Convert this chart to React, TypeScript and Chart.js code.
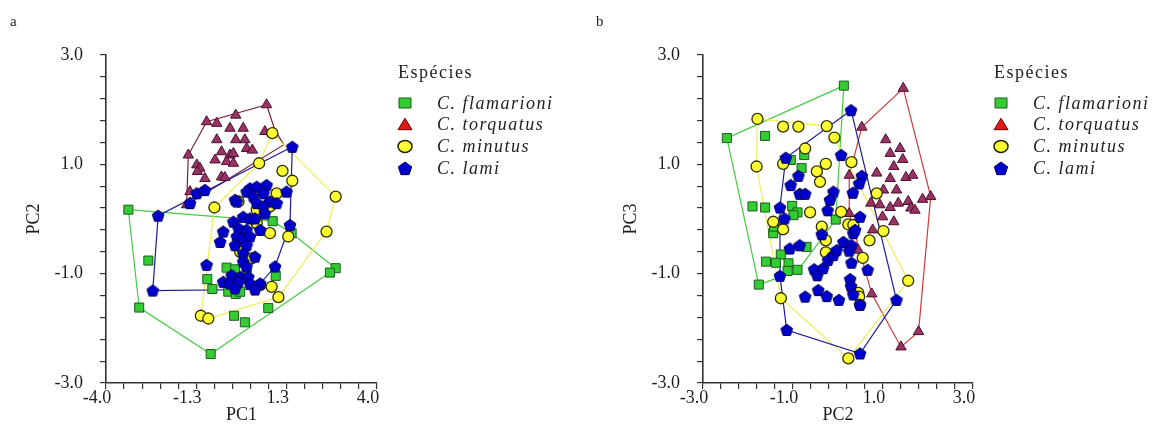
import React, { useEffect, useRef } from 'react';
import { Chart, registerables } from 'chart.js';

Chart.register(...registerables);

type P = [number, number];

// ---------- text ----------
const SPECIES = ['C. flamarioni', 'C. torquatus', 'C. minutus', 'C. lami'];
const LEGEND_TITLE = 'Espécies';
const PANEL_LABELS = ['a', 'b'];
const AXIS_TITLES_A = ['PC1', 'PC2'];
const AXIS_TITLES_B = ['PC2', 'PC3'];

// ---------- axes ----------
const A_X_RANGE = [-4, 4];
const B_X_RANGE = [-3, 3];
const Y_RANGE = [-3, 3];
const A_X_TICK_LABELS = ['-4.0', '-1.3', '1.3', '4.0'];
const B_X_TICK_LABELS = ['-3.0', '-1.0', '1.0', '3.0'];
const Y_TICK_LABELS = ['-3.0', '-1.0', '1.0', '3.0'];

// ---------- panel a (PC1 x PC2) ----------
const A_FLAM: P[] = [[-3.34,0.17],[-2.75,-0.76],[-3.02,-1.62],[-0.91,-2.47],[0.92,-0.04],[1.48,-0.26],[2.78,-0.90],[2.61,-0.98],[-0.44,-0.89],[-0.19,-0.92],[1.01,-1.04],[-1.01,-1.10],[-0.86,-1.28],[-0.39,-1.33],[-0.17,-1.37],[-0.04,-1.33],[0.79,-1.63],[-0.22,-1.77],[0.10,-1.89],[0.15,-0.99]];
const A_FLAM_HULL: P[] = [[-3.34,0.17],[0.92,-0.04],[1.48,-0.26],[2.78,-0.90],[2.61,-0.98],[-0.91,-2.47],[-3.02,-1.62],[-3.34,0.17]];

const A_TORQ: P[] = [[0.74,2.09],[-0.17,1.90],[-1.03,1.78],[-0.73,1.75],[-0.34,1.66],[0.05,1.66],[0.69,1.60],[-0.73,1.45],[-0.17,1.45],[0.10,1.45],[0.15,1.29],[0.32,1.26],[-1.57,1.17],[-0.59,1.23],[-0.34,1.17],[-0.24,1.20],[-0.78,1.08],[-0.44,1.05],[-0.24,1.02],[-1.32,0.99],[-1.23,0.93],[-1.30,0.87],[-1.08,0.74],[-0.59,0.77],[-0.49,0.76],[-1.52,0.50],[-1.62,0.26],[-1.52,0.29]];
const A_TORQ_HULL: P[] = [[0.74,2.09],[-1.03,1.78],[-1.57,1.17],[-1.62,0.26],[1.25,1.36],[0.99,1.62],[0.74,2.09]];

const A_MIN: P[] = [[0.91,1.57],[0.52,1.02],[1.21,0.88],[1.50,0.70],[2.78,0.41],[-0.80,0.21],[1.04,0.47],[0.84,0.23],[-0.09,0.32],[0.45,-0.08],[0.84,-0.26],[1.38,-0.32],[2.51,-0.23],[-0.04,-0.60],[0.30,-0.72],[0.55,-1.21],[0.89,-1.24],[1.09,-1.43],[-1.20,-1.77],[-0.98,-1.82],[0.45,0.17]];
const A_MIN_HULL: P[] = [[0.91,1.57],[2.78,0.41],[2.51,-0.23],[1.09,-1.43],[-0.98,-1.82],[-1.20,-1.77],[-0.80,0.21],[0.52,1.02],[0.91,1.57]];

const A_LAMI: P[] = [[1.50,1.32],[-1.52,0.29],[-1.32,0.47],[-1.08,0.53],[-2.46,0.06],[-2.62,-1.31],[0.25,0.56],[0.15,0.50],[0.45,0.59],[0.74,0.62],[1.33,0.50],[0.65,0.47],[0.35,0.41],[0.45,0.29],[0.84,0.32],[1.04,0.29],[-0.19,0.35],[-0.14,0.32],[0.65,0.23],[0.69,0.10],[0.05,0.04],[0.25,0.01],[0.40,0.01],[-0.24,-0.05],[1.43,-0.11],[-0.54,-0.23],[-0.09,-0.17],[0.15,-0.20],[0.55,-0.20],[-0.63,-0.42],[-0.14,-0.32],[0.05,-0.35],[0.25,-0.32],[-0.19,-0.48],[0.15,-0.48],[0.05,-0.63],[0.40,-0.69],[0.05,-0.78],[0.15,-0.87],[-1.03,-0.84],[0.99,-0.87],[-0.29,-1.03],[-0.04,-1.06],[0.20,-1.06],[-0.54,-1.15],[-0.34,-1.18],[-0.09,-1.15],[0.25,-1.18],[0.55,-1.18],[-0.19,-1.27],[0.40,-1.29]];
const A_LAMI_HULL: P[] = [[1.50,1.32],[1.43,-0.11],[0.99,-0.87],[0.40,-1.29],[-2.62,-1.31],[-2.46,0.06],[1.50,1.32]];

// ---------- panel b (PC2 x PC3) ----------
const B_FLAM: P[] = [[0.13,2.44],[-2.47,1.48],[-1.62,1.52],[-0.75,1.17],[-0.81,0.93],[-1.05,1.08],[-1.90,0.23],[-1.62,0.21],[-1.02,0.24],[-0.90,0.12],[-0.99,0.07],[-0.05,-0.01],[-1.44,-0.26],[-1.42,-0.14],[-1.27,-0.65],[-1.60,-0.78],[-1.38,-0.80],[-1.10,-0.81],[-1.12,-0.95],[-0.90,-0.93],[-0.70,-0.51],[-1.76,-1.20]];
const B_FLAM_HULL: P[] = [[0.13,2.44],[-2.47,1.48],[-1.76,-1.20],[-0.90,-0.95],[-0.05,-0.01],[0.13,2.44]];

const B_TORQ: P[] = [[1.45,2.39],[0.53,1.68],[1.06,1.45],[1.38,1.29],[1.16,1.20],[1.44,1.09],[1.24,0.96],[0.86,0.84],[1.16,0.74],[1.51,0.76],[1.66,0.80],[1.01,0.53],[1.30,0.53],[2.06,0.41],[1.88,0.36],[0.73,0.29],[0.93,0.26],[1.16,0.21],[1.34,0.29],[1.56,0.32],[1.62,0.20],[1.71,0.16],[0.25,0.10],[0.99,0.04],[1.24,-0.05],[0.77,-0.20],[0.45,-0.57],[0.75,-1.37],[1.79,-2.06],[1.40,-2.34],[0.25,0.80]];
const B_TORQ_HULL: P[] = [[1.45,2.39],[2.06,0.41],[1.79,-2.06],[1.40,-2.34],[0.75,-1.37],[0.25,0.10],[0.25,0.80],[0.53,1.68],[1.45,2.39]];

const B_MIN: P[] = [[-1.79,1.83],[-1.22,1.69],[-0.88,1.69],[-0.25,1.70],[-0.08,1.49],[-0.73,1.29],[-1.81,0.96],[-1.22,1.01],[-0.27,1.01],[0.30,1.04],[-0.47,0.87],[-0.40,0.68],[0.86,0.47],[-0.62,0.12],[0.07,0.13],[-1.44,-0.05],[-1.22,-0.19],[-0.36,-0.14],[-0.27,-0.39],[0.23,-0.10],[0.34,-0.11],[0.70,-0.39],[1.01,-0.22],[-0.27,-0.61],[0.55,-0.71],[1.56,-1.13],[0.45,-1.35],[0.47,-1.42],[0.49,-1.57],[-1.27,-1.45],[0.23,-2.55]];
const B_MIN_HULL: P[] = [[-1.79,1.83],[-0.25,1.70],[-0.08,1.49],[1.56,-1.13],[0.23,-2.55],[-1.27,-1.45],[-1.81,0.96],[-1.79,1.83]];

const B_LAMI: P[] = [[0.29,1.99],[-1.16,1.12],[0.07,1.17],[-0.88,0.79],[-1.05,0.62],[-0.85,0.46],[-0.73,0.46],[-0.10,0.50],[-0.18,0.35],[0.53,0.79],[0.47,0.65],[0.33,0.48],[-1.29,0.21],[-1.19,0.01],[-0.23,0.16],[0.49,0.04],[0.34,-0.26],[-0.36,-0.28],[0.12,-0.42],[-1.07,-0.54],[-0.85,-0.48],[0.30,-0.48],[0.38,-0.20],[-0.53,-0.92],[-0.46,-1.03],[-0.33,-0.90],[-0.22,-0.75],[-0.10,-0.66],[-0.03,-0.57],[0.25,-0.58],[0.30,-0.80],[0.66,-0.93],[0.27,-1.10],[0.29,-1.23],[-0.44,-1.30],[-0.73,-1.42],[-0.25,-1.41],[0.02,-1.48],[0.34,-1.38],[0.49,-1.57],[-1.29,-1.04],[-1.14,-2.03],[1.30,-1.48],[0.49,-2.46]];
const B_LAMI_HULL: P[] = [[0.29,1.99],[1.30,-1.48],[0.49,-2.46],[-1.14,-2.03],[-1.29,-1.04],[-1.29,0.21],[-1.16,1.12],[0.29,1.99]];

// ---------- styles ----------
const FONT = '"Liberation Serif", "Times New Roman", serif';
const INK = '#1e1e1e';
const FLAM_FILL = '#33cc33', FLAM_EDGE = '#1d5a1d', FLAM_HULL = '#44cc44';
const TORQ_FILL = '#993366', TORQ_EDGE = '#4a0f2a';
const TORQ_HULL_A = '#74203c', TORQ_HULL_B = '#d03a3a';
const TORQ_LEGEND_FILL = '#dd1a1a', TORQ_LEGEND_EDGE = '#6a0000';
const MIN_FILL = '#ffff33', MIN_EDGE = '#2e2e00', MIN_HULL = '#eeee55';
const LAMI_FILL = '#0000cc', LAMI_EDGE = '#000055', LAMI_HULL = '#1c1c99';

const N_INTERVALS = 15;
const MINOR_PER_LABEL = 5;

function makePentagon(r: number, fill: string, edge: string) {
  const size = Math.ceil(r * 2 + 3);
  const c = document.createElement('canvas');
  c.width = size;
  c.height = size;
  const g = c.getContext('2d')!;
  const cx = size / 2, cy = size / 2 + 0.5;
  g.beginPath();
  for (let i = 0; i < 5; i++) {
    const a = -Math.PI / 2 + (i * 2 * Math.PI) / 5;
    const px = cx + r * Math.cos(a), py = cy + r * Math.sin(a);
    if (i === 0) g.moveTo(px, py); else g.lineTo(px, py);
  }
  g.closePath();
  g.fillStyle = fill;
  g.fill();
  g.lineWidth = 1;
  g.strokeStyle = edge;
  g.stroke();
  return c;
}

function legendMarker(ctx: CanvasRenderingContext2D, kind: number, x: number, y: number) {
  ctx.save();
  ctx.lineWidth = 1;
  ctx.beginPath();
  if (kind === 0) {
    ctx.rect(x - 6, y - 5, 12, 10);
    ctx.fillStyle = FLAM_FILL; ctx.strokeStyle = FLAM_EDGE;
  } else if (kind === 1) {
    ctx.moveTo(x, y - 6.5); ctx.lineTo(x + 7, y + 5); ctx.lineTo(x - 7, y + 5); ctx.closePath();
    ctx.fillStyle = TORQ_LEGEND_FILL; ctx.strokeStyle = TORQ_LEGEND_EDGE;
  } else if (kind === 2) {
    ctx.ellipse(x, y, 7, 6, 0, 0, Math.PI * 2);
    ctx.fillStyle = MIN_FILL; ctx.strokeStyle = '#222200';
    ctx.lineWidth = 1.5;
  } else {
    for (let i = 0; i < 5; i++) {
      const a = -Math.PI / 2 + (i * 2 * Math.PI) / 5;
      const px = x + 7 * Math.cos(a), py = y + 1 + 7 * Math.sin(a);
      if (i === 0) ctx.moveTo(px, py); else ctx.lineTo(px, py);
    }
    ctx.closePath();
    ctx.fillStyle = LAMI_FILL; ctx.strokeStyle = LAMI_EDGE;
  }
  ctx.fill();
  ctx.stroke();
  ctx.restore();
}

const legendPlugin = {
  id: 'speciesLegend',
  afterDraw(chart: any, _args: any, opts: any) {
    const { ctx, chartArea } = chart;
    const x0 = chartArea.right;
    const y0 = chartArea.top;
    ctx.save();
    ctx.fillStyle = INK;
    ctx.textAlign = 'left';
    ctx.textBaseline = 'middle';
    // panel letter
    ctx.font = `15px ${FONT}`;
    ctx.fillText(opts.panel, opts.panelX, 22);
    (ctx as any).letterSpacing = '1.5px';
    ctx.font = `18px ${FONT}`;
    ctx.fillText(LEGEND_TITLE, x0 + 21, y0 + 18);
    ctx.font = `italic 18px ${FONT}`;
    const rows = [49, 70.7, 92.4, 114];
    SPECIES.forEach((name, i) => {
      legendMarker(ctx, i, x0 + 28, y0 + rows[i] - 1);
      ctx.fillStyle = INK;
      ctx.fillText(name, x0 + 60, y0 + rows[i]);
    });
    ctx.restore();
  },
};

function axis(range: number[], labels: string[], title: string, isX: boolean) {
  const [min, max] = range;
  return {
    type: 'linear',
    position: isX ? 'bottom' : 'left',
    min,
    max,
    afterBuildTicks: (scale: any) => {
      const t = [];
      for (let i = 0; i <= N_INTERVALS; i++) t.push({ value: min + ((max - min) * i) / N_INTERVALS });
      scale.ticks = t;
    },
    afterFit: (scale: any) => {
      if (isX) scale.height = 51; else scale.width = 106;
    },
    ticks: {
      autoSkip: false,
      maxRotation: 0,
      minRotation: 0,
      color: INK,
      font: { family: FONT, size: 18, lineHeight: 1 },
      padding: isX ? 0 : 17,
      labelOffset: isX ? -9 : 0,
      callback: (_v: any, i: number) => (i % MINOR_PER_LABEL === 0 ? labels[i / MINOR_PER_LABEL] : ''),
    },
    grid: {
      display: true,
      drawOnChartArea: false,
      drawTicks: true,
      tickLength: 6,
      color: '#333333',
      lineWidth: 1.2,
    },
    border: { display: true, color: '#333333', width: 1.6 },
    title: {
      display: true,
      text: title,
      color: INK,
      font: { family: FONT, size: 18, lineHeight: 1 },
      padding: isX ? { top: 0, bottom: 10 } : { top: 25, bottom: 0 },
    },
  };
}

const pts = (a: P[]) => a.map(([x, y]) => ({ x, y }));

function buildConfig(p: any, pent: HTMLCanvasElement) {
  const hull = (a: P[], color: string) => ({
    label: '',
    data: pts(a),
    showLine: true,
    fill: false,
    tension: 0,
    borderColor: color,
    borderWidth: 1.2,
    pointRadius: 0,
    pointHoverRadius: 0,
    pointHitRadius: 0,
  });
  return {
    type: 'scatter',
    data: {
      datasets: [
        { label: SPECIES[3], data: pts(p.lami), pointStyle: pent, pointRadius: 6, backgroundColor: LAMI_FILL, borderColor: LAMI_EDGE, showLine: false },
        { label: SPECIES[2], data: pts(p.min), pointStyle: 'circle', pointRadius: 5.5, backgroundColor: MIN_FILL, borderColor: MIN_EDGE, borderWidth: 1.3, showLine: false },
        { label: SPECIES[1], data: pts(p.torq), pointStyle: 'triangle', pointRadius: 6, backgroundColor: TORQ_FILL, borderColor: TORQ_EDGE, borderWidth: 1, showLine: false },
        { label: SPECIES[0], data: pts(p.flam), pointStyle: 'rect', pointRadius: 6.4, backgroundColor: FLAM_FILL, borderColor: FLAM_EDGE, borderWidth: 1, showLine: false },
        hull(p.lamiHull, LAMI_HULL),
        hull(p.minHull, MIN_HULL),
        hull(p.torqHull, p.torqHullColor),
        hull(p.flamHull, FLAM_HULL),
      ],
    },
    options: {
      animation: false,
      responsive: false,
      devicePixelRatio: 1,
      events: [],
      layout: { padding: { left: p.padL, right: p.padR, top: 55, bottom: 0 } },
      scales: {
        x: axis(p.xRange, p.xLabels, p.titles[0], true),
        y: axis(Y_RANGE, Y_TICK_LABELS, p.titles[1], false),
      },
      plugins: {
        legend: { display: false },
        tooltip: { enabled: false },
        speciesLegend: { panel: p.panel, panelX: p.panelX },
      },
    },
    plugins: [legendPlugin],
  };
}

const PANELS = [
  {
    left: 0, width: 590, padL: 0, padR: 213, panel: PANEL_LABELS[0], panelX: 10,
    xRange: A_X_RANGE, xLabels: A_X_TICK_LABELS, titles: AXIS_TITLES_A, torqHullColor: TORQ_HULL_A,
    flam: A_FLAM, flamHull: A_FLAM_HULL, torq: A_TORQ, torqHull: A_TORQ_HULL,
    min: A_MIN, minHull: A_MIN_HULL, lami: A_LAMI, lamiHull: A_LAMI_HULL,
  },
  {
    left: 590, width: 563, padL: 7, padR: 180, panel: PANEL_LABELS[1], panelX: 6,
    xRange: B_X_RANGE, xLabels: B_X_TICK_LABELS, titles: AXIS_TITLES_B, torqHullColor: TORQ_HULL_B,
    flam: B_FLAM, flamHull: B_FLAM_HULL, torq: B_TORQ, torqHull: B_TORQ_HULL,
    min: B_MIN, minHull: B_MIN_HULL, lami: B_LAMI, lamiHull: B_LAMI_HULL,
  },
];

function ChartPanel({ p }: { p: any }) {
  const ref = useRef<HTMLCanvasElement>(null);
  useEffect(() => {
    const canvas = ref.current;
    if (!canvas) return;
    const pent = makePentagon(6.2, LAMI_FILL, LAMI_EDGE);
    const chart = new Chart(canvas, buildConfig(p, pent) as any);
    return () => chart.destroy();
  }, [p]);
  return (
    <canvas
      ref={ref}
      width={p.width}
      height={434}
      style={{ position: 'absolute', left: p.left, top: 0, width: p.width, height: 434 }}
    />
  );
}

export default function App() {
  return (
    <div style={{ position: 'fixed', left: 0, top: 0, width: 1153, height: 434, background: '#ffffff', overflow: 'hidden' }}>
      {PANELS.map((p, i) => (
        <ChartPanel key={i} p={p} />
      ))}
    </div>
  );
}
